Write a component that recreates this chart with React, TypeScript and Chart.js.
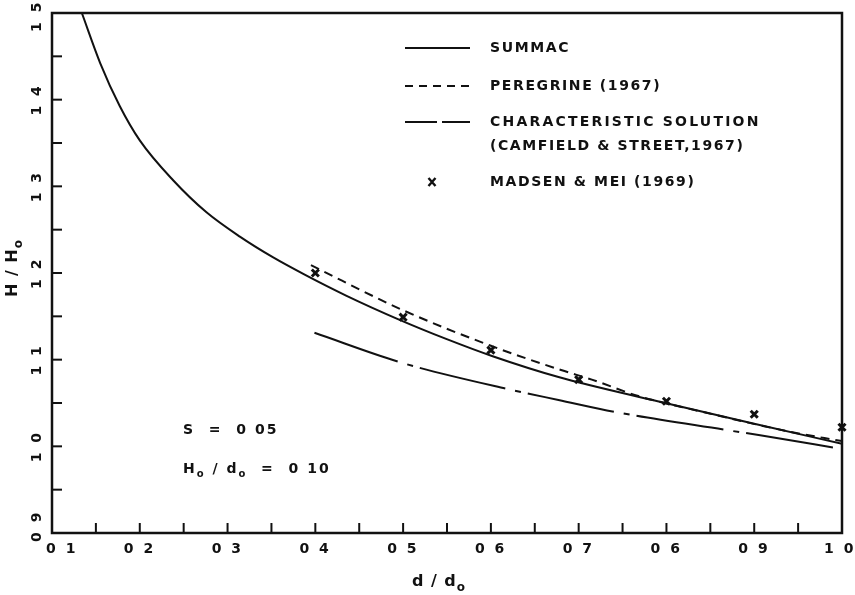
import React, { useEffect, useRef } from 'react';
import { Chart, registerables } from 'chart.js';

Chart.register(...registerables);

// ---- data ----
const summacX = [0.134, 0.155, 0.177, 0.2, 0.238, 0.276, 0.314, 0.352, 0.39, 0.435, 0.496, 0.549, 0.602, 0.677, 0.79, 0.9, 1.0];
const summacY = [1.5, 1.442, 1.393, 1.353, 1.307, 1.27, 1.242, 1.218, 1.197, 1.174, 1.146, 1.124, 1.104, 1.08, 1.052, 1.026, 1.003];

const peregrineX = [0.395, 0.5, 0.6, 0.68, 0.715, 0.768, 0.836, 0.94, 1.0];
const peregrineY = [1.209, 1.157, 1.116, 1.088, 1.077, 1.058, 1.041, 1.017, 1.006];

const characteristicX = [0.399, 0.5, 0.624, 0.677, 0.745, 0.867, 0.905, 1.0];
const characteristicY = [1.131, 1.096, 1.065, 1.0535, 1.039, 1.019, 1.013, 0.997];

const madsenX = [0.4, 0.5, 0.6, 0.7, 0.8, 0.9, 1.0];
const madsenY = [1.2, 1.149, 1.111, 1.077, 1.052, 1.037, 1.022];

const xTickLabels = ['0 1', '0 2', '0 3', '0 4', '0 5', '0 6', '0 7', '0 6', '0 9', '1 0'];
const yTickLabels = ['0 9', '1 0', '1 1', '1 2', '1 3', '1 4', '1 5'];

const legendLabels = ['SUMMAC', 'PEREGRINE (1967)', 'CHARACTERISTIC SOLUTION', '(CAMFIELD & STREET,1967)', 'MADSEN & MEI (1969)'];

const FONT = '"DejaVu Sans", sans-serif';
const INK = '#111111';

type Run = { t: string; sub?: boolean };

function drawRuns(ctx: CanvasRenderingContext2D, x: number, y: number, runs: Run[], size: number, spacing: number, align: 'left' | 'center') {
  ctx.save();
  ctx.textBaseline = 'middle';
  ctx.textAlign = 'left';
  (ctx as any).letterSpacing = spacing + 'px';
  const widths = runs.map((r) => {
    ctx.font = `bold ${r.sub ? Math.round(size * 0.72) : size}px ${FONT}`;
    return ctx.measureText(r.t).width;
  });
  const total = widths.reduce((a, b) => a + b, 0);
  let cx = align === 'center' ? x - total / 2 : x;
  runs.forEach((r, i) => {
    ctx.font = `bold ${r.sub ? Math.round(size * 0.72) : size}px ${FONT}`;
    ctx.fillText(r.t, cx, r.sub ? y + size * 0.38 : y);
    cx += widths[i];
  });
  ctx.restore();
}

const decorPlugin = {
  id: 'decor',
  afterDraw(chart: any) {
    const ctx: CanvasRenderingContext2D = chart.ctx;
    const { left, right, top, bottom } = chart.chartArea;
    const xs = chart.scales.x;
    const ys = chart.scales.y;
    ctx.save();
    ctx.strokeStyle = INK;
    ctx.fillStyle = INK;
    // frame
    ctx.lineWidth = 2.5;
    ctx.beginPath();
    ctx.moveTo(left, top);
    ctx.lineTo(right, top);
    ctx.lineTo(right, bottom);
    ctx.lineTo(left, bottom);
    ctx.closePath();
    ctx.stroke();
    // inward ticks
    const tl = 10;
    ctx.lineWidth = 2;
    xs.ticks.forEach((t: any) => {
      const px = xs.getPixelForValue(t.value);
      if (px <= left + 1 || px >= right - 1) return;
      ctx.beginPath();
      ctx.moveTo(px, bottom);
      ctx.lineTo(px, bottom - tl);
      ctx.stroke();
    });
    ys.ticks.forEach((t: any) => {
      const py = ys.getPixelForValue(t.value);
      if (py <= top + 1 || py >= bottom - 1) return;
      ctx.beginPath();
      ctx.moveTo(left, py);
      ctx.lineTo(left + tl, py);
      ctx.stroke();
    });
    // x tick labels
    xTickLabels.forEach((lab, i) => {
      const v = 0.1 + i * 0.1;
      let px = xs.getPixelForValue(v);
      if (i === 0) px += 10;
      if (i === xTickLabels.length - 1) px -= 2;
      drawRuns(ctx, px, bottom + 16, [{ t: lab }], 14, 2.5, 'center');
    });
    // y tick labels (rotated)
    yTickLabels.forEach((lab, i) => {
      const v = 0.9 + i * 0.1;
      let py = ys.getPixelForValue(v);
      if (i === 0) py -= 7;
      if (i === yTickLabels.length - 1) py += 3;
      ctx.save();
      ctx.translate(left - 15, py);
      ctx.rotate(-Math.PI / 2);
      drawRuns(ctx, 0, 0, [{ t: lab }], 14, 2.5, 'center');
      ctx.restore();
    });
    // axis titles
    drawRuns(ctx, (left + right) / 2 - 8, bottom + 49, [{ t: 'd / d' }, { t: 'o', sub: true }], 16, 1, 'center');
    ctx.save();
    ctx.translate(13, (top + bottom) / 2 - 5);
    ctx.rotate(-Math.PI / 2);
    drawRuns(ctx, 0, 0, [{ t: 'H / H' }, { t: 'o', sub: true }], 16, 1, 'center');
    ctx.restore();
    // annotations
    drawRuns(ctx, 183, 430, [{ t: 'S  =  0 05' }], 14, 2, 'left');
    drawRuns(ctx, 183, 469, [{ t: 'H' }, { t: 'o', sub: true }, { t: ' / d' }, { t: 'o', sub: true }, { t: '  =  0 10' }], 14, 2, 'left');
    // legend
    const lx0 = 405, lx1 = 470, tx = 490;
    const rows = [48, 86, 122, 146, 182];
    ctx.lineWidth = 2;
    ctx.setLineDash([]);
    ctx.beginPath(); ctx.moveTo(lx0, rows[0]); ctx.lineTo(lx1, rows[0]); ctx.stroke();
    ctx.setLineDash([8, 6]);
    ctx.beginPath(); ctx.moveTo(lx0, rows[1]); ctx.lineTo(lx1, rows[1]); ctx.stroke();
    ctx.setLineDash([32, 5]);
    ctx.beginPath(); ctx.moveTo(lx0, rows[2]); ctx.lineTo(lx1, rows[2]); ctx.stroke();
    ctx.setLineDash([]);
    // legend x marker
    ctx.lineWidth = 2.4;
    const mx = 432, my = rows[4];
    ctx.beginPath();
    ctx.moveTo(mx - 3.5, my - 4); ctx.lineTo(mx + 3.5, my + 4);
    ctx.moveTo(mx + 3.5, my - 4); ctx.lineTo(mx - 3.5, my + 4);
    ctx.stroke();
    legendLabels.forEach((lab, i) => {
      drawRuns(ctx, tx, rows[i], [{ t: lab }], 14, i === 2 ? 2.2 : 1.6, 'left');
    });
    ctx.restore();
  },
};

function pts(xs: number[], ys: number[]) {
  return xs.map((x, i) => ({ x, y: ys[i] }));
}

export default function App() {
  const ref = useRef<HTMLCanvasElement | null>(null);
  useEffect(() => {
    if (!ref.current) return;
    const chart = new Chart(ref.current, {
      type: 'line',
      data: {
        datasets: [
          {
            label: 'SUMMAC',
            data: pts(summacX, summacY),
            borderColor: INK,
            borderWidth: 2,
            pointRadius: 0,
            cubicInterpolationMode: 'monotone',
            fill: false,
          },
          {
            label: 'PEREGRINE (1967)',
            data: pts(peregrineX, peregrineY),
            borderColor: INK,
            borderWidth: 2,
            borderDash: [9, 6],
            pointRadius: 0,
            cubicInterpolationMode: 'monotone',
            fill: false,
          },
          {
            label: 'CHARACTERISTIC SOLUTION',
            data: pts(characteristicX, characteristicY),
            borderColor: INK,
            borderWidth: 2,
            borderDash: [88, 10, 6, 7],
            pointRadius: 0,
            cubicInterpolationMode: 'monotone',
            fill: false,
          },
          {
            label: 'MADSEN & MEI (1969)',
            data: pts(madsenX, madsenY),
            showLine: false,
            pointStyle: 'crossRot',
            pointRadius: 5,
            pointBorderWidth: 3,
            pointBorderColor: INK,
            pointBackgroundColor: INK,
            clip: 10,
          } as any,
        ],
      },
      options: {
        responsive: false,
        animation: false,
        layout: { padding: { left: 52, right: 13, top: 13, bottom: 62 } },
        plugins: { legend: { display: false }, tooltip: { enabled: false } },
        scales: {
          x: {
            type: 'linear',
            min: 0.1,
            max: 1.0,
            ticks: { display: false, stepSize: 0.05 },
            grid: { display: false, drawTicks: false },
            border: { display: false },
          },
          y: {
            type: 'linear',
            min: 0.9,
            max: 1.5,
            ticks: { display: false, stepSize: 0.05 },
            grid: { display: false, drawTicks: false },
            border: { display: false },
          },
        },
      },
      plugins: [decorPlugin],
    });
    return () => chart.destroy();
  }, []);
  return (
    <div style={{ position: 'absolute', left: 0, top: 0, width: 855, height: 595, background: '#fff' }}>
      <canvas ref={ref} width={855} height={595} />
    </div>
  );
}
